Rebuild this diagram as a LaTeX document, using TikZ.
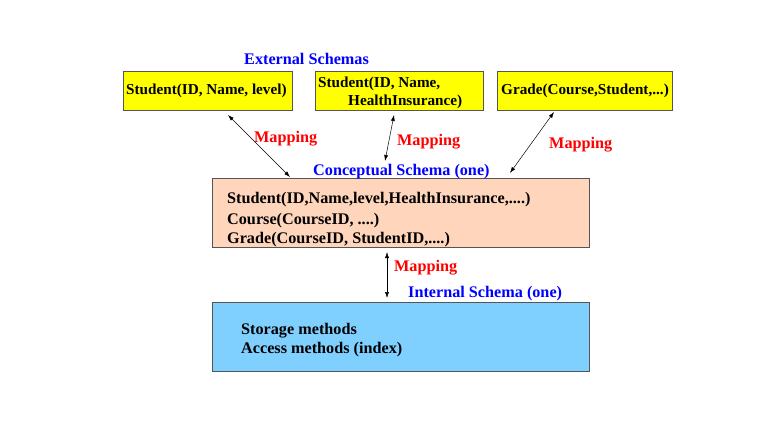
\documentclass[tikz,border=0pt]{standalone}
\usepackage{fontspec}
\setmainfont{Liberation Serif}
\usetikzlibrary{arrows.meta}
\definecolor{extyellow}{HTML}{FFFF00}
\definecolor{concpeach}{HTML}{FFD6BC}
\definecolor{intblue}{HTML}{80D0FF}
\definecolor{bordergray}{HTML}{555555}
\definecolor{lblblue}{HTML}{0000FF}
\definecolor{lblred}{HTML}{FF0000}
\tikzset{
  box/.style={draw=bordergray, line width=1pt},
  txt/.style={font=\fontsize{16.2}{18}\selectfont\bfseries, inner sep=0pt, anchor=west},
  smalltxt/.style={txt, font=\fontsize{15.2}{17}\selectfont\bfseries},
  bluelbl/.style={txt, text=lblblue},
  redlbl/.style={txt, text=lblred},
  maparrow/.style={{Latex[length=6pt,width=4pt]}-{Latex[length=6pt,width=4pt]}, line width=0.5pt, black},
}
\begin{document}
\begin{tikzpicture}[x=1pt,y=-1pt]
\useasboundingbox (0,0) rectangle (773,422);
% boxes
\draw[box, fill=extyellow] (123,72) rectangle (292,111);
\draw[box, fill=extyellow] (315,72) rectangle (483,111);
\draw[box, fill=extyellow] (497,72) rectangle (672,111);
\draw[box, fill=concpeach] (212,179) rectangle (589,247);
\draw[box, fill=intblue] (212,302) rectangle (589,371);
% box texts
\node[smalltxt] (e1) at (126,91) {Student(ID, Name, level)};
\node[smalltxt] (e2a) at (318,83.5) {Student(ID, Name,};
\node[smalltxt] (e2b) at (348,101.5) {HealthInsurance)};
\node[smalltxt] (e3) at (501,91) {Grade(Course,Student,...)};
\node[txt] (c1) at (227,200) {Student(ID,Name,level,HealthInsurance,....)};
\node[txt] (c2) at (227,221) {Course(CourseID, ....)};
\node[txt] (c3) at (227,240) {Grade(CourseID, StudentID,....)};
\node[txt] (i1) at (241,331) {Storage methods};
\node[txt] (i2) at (241,350) {Access methods (index)};
% labels
\node[bluelbl] (ext) at (244,59) {External Schemas};
\node[bluelbl] (con) at (313,172) {Conceptual Schema (one)};
\node[bluelbl] (int) at (408,294) {Internal Schema (one)};
\node[redlbl] (m1) at (254,139) {Mapping};
\node[redlbl] (m2) at (397,142) {Mapping};
\node[redlbl] (m3) at (549,145) {Mapping};
\node[redlbl] (m4) at (394,268) {Mapping};
% arrow end points
\coordinate (a1t) at (228,115);
\coordinate (a1b) at (290,177);
\coordinate (a2t) at (394,115);
\coordinate (a2b) at (385,161);
\coordinate (a3t) at (554,112);
\coordinate (a3b) at (510,173);
\coordinate (a4t) at (387,252);
\coordinate (a4b) at (387,298);
\draw[maparrow] (a1t) -- (a1b);
\draw[maparrow] (a2t) -- (a2b);
\draw[maparrow] (a3t) -- (a3b);
\draw[maparrow] (a4t) -- (a4b);
\end{tikzpicture}
\end{document}
